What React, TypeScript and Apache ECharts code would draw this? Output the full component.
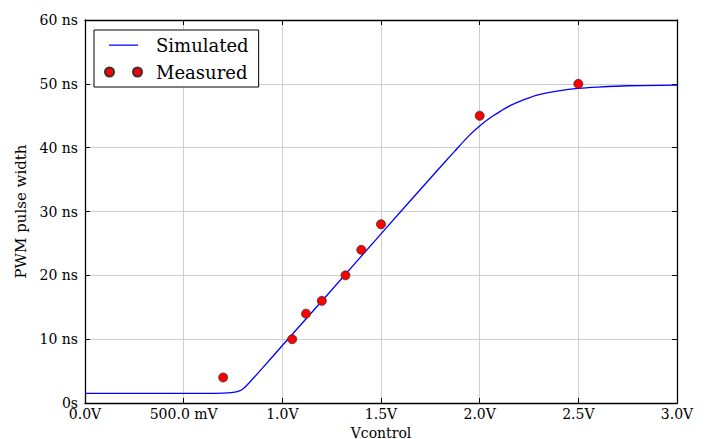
import React, { useEffect, useRef } from "react";
import * as echarts from "echarts";

const simX = [0, 0.5, 0.7, 0.75, 0.78, 0.8, 0.83, 0.9, 1.0, 1.25, 1.5, 1.75, 1.875, 1.95, 2.0, 2.05, 2.1, 2.15, 2.2, 2.25, 2.3, 2.4, 2.5, 2.6, 2.75, 3.0];
const simY = [1.5, 1.5, 1.55, 1.65, 1.85, 2.2, 3.1, 5.5, 9.0, 17.7, 26.5, 35.2, 39.5, 42.0, 43.4, 44.6, 45.6, 46.5, 47.2, 47.8, 48.3, 48.9, 49.3, 49.5, 49.7, 49.8];
const measX = [0.7, 1.05, 1.12, 1.2, 1.32, 1.4, 1.5, 2.0, 2.5];
const measY = [4, 10, 14, 16, 20, 24, 28, 45, 50];
const xTicks = [0, 0.5, 1.0, 1.5, 2.0, 2.5, 3.0];
const yTicks = [0, 10, 20, 30, 40, 50, 60];

const FONT = "DejaVu Serif";

function xLabel(v: number): string {
  if (Math.abs(v - 0.5) < 1e-9) return "500.0 mV";
  return v.toFixed(1) + "V";
}
function yLabel(v: number): string {
  if (v === 0) return "0s";
  return v + " ns";
}

export default function App() {
  const ref = useRef<HTMLDivElement>(null);
  useEffect(() => {
    if (!ref.current) return;
    const chart = echarts.init(ref.current, null, { renderer: "svg" });
    const tick = { show: true, inside: true, length: 5, lineStyle: { color: "#000", width: 1 } };
    const frame = { show: true, onZero: false, lineStyle: { color: "#000", width: 1.3 } };
    const xBase = { type: "value" as const, min: xTicks[0], max: xTicks[xTicks.length - 1], interval: 0.5 };
    const yBase = { type: "value" as const, min: yTicks[0], max: yTicks[yTicks.length - 1], interval: 10 };
    chart.setOption({
      animation: false,
      backgroundColor: "#fff",
      grid: { left: 85, right: 29, top: 20, bottom: 36, containLabel: false, outerBoundsMode: "none" },
      legend: {
        left: 94,
        top: 30,
        orient: "vertical",
        backgroundColor: "#fff",
        borderColor: "#000",
        borderWidth: 1,
        borderRadius: 0,
        padding: [6, 10, 6, 10],
        itemWidth: 37,
        itemHeight: 9,
        itemGap: 9,
        textStyle: { fontFamily: FONT, fontSize: 18, color: "#000", padding: [0, 0, 0, 9] },
        data: [
          {
            name: "Simulated",
            icon: "path://M0,0L0.01,0L0,0.01ZM37,9L36.99,9L37,8.99ZM4,3.9L33,3.9L33,5.2L4,5.2Z",
            itemStyle: { color: "#0000ff", borderWidth: 0 },
          },
          {
            name: "Measured",
            icon: "path://M0,4.5A4.5,4.5 0 1,1 9,4.5A4.5,4.5 0 1,1 0,4.5ZM28,4.5A4.5,4.5 0 1,1 37,4.5A4.5,4.5 0 1,1 28,4.5Z",
          },
        ],
      },
      xAxis: [
        {
          ...xBase,
          position: "bottom",
          name: "Vcontrol",
          nameLocation: "middle",
          nameGap: 18,
          nameTextStyle: { fontFamily: FONT, fontSize: 14, lineHeight: 14, color: "#000" },
          axisLine: frame,
          axisTick: tick,
          axisLabel: { fontFamily: FONT, fontSize: 14, color: "#000", margin: 4, formatter: xLabel },
          splitLine: { show: true, lineStyle: { color: "#cfcfcf", width: 1 } },
        },
        {
          ...xBase,
          position: "top",
          axisLine: frame,
          axisTick: tick,
          axisLabel: { show: false },
          splitLine: { show: false },
        },
      ],
      yAxis: [
        {
          ...yBase,
          position: "left",
          name: "PWM pulse width",
          nameLocation: "middle",
          nameGap: 44,
          nameTextStyle: { fontFamily: FONT, fontSize: 15, color: "#000" },
          axisLine: frame,
          axisTick: tick,
          axisLabel: { fontFamily: FONT, fontSize: 14, color: "#000", margin: 7, formatter: yLabel },
          splitLine: { show: true, lineStyle: { color: "#cfcfcf", width: 1 } },
        },
        {
          ...yBase,
          position: "right",
          axisLine: frame,
          axisTick: tick,
          axisLabel: { show: false },
          splitLine: { show: false },
        },
      ],
      series: [
        {
          name: "Simulated",
          type: "line",
          xAxisIndex: 0,
          yAxisIndex: 0,
          data: simX.map((x, i) => [x, simY[i]]),
          symbol: "none",
          smooth: 0.3,
          lineStyle: { color: "#0000ff", width: 1.3 },
          itemStyle: { color: "#0000ff" },
          z: 2,
        },
        {
          name: "Measured",
          type: "scatter",
          xAxisIndex: 0,
          yAxisIndex: 0,
          data: measX.map((x, i) => [x, measY[i]]),
          symbol: "circle",
          symbolSize: 9,
          itemStyle: { color: "#ff0000", borderColor: "#333", borderWidth: 0.8, opacity: 1 },
          z: 3,
        },
      ],
    });
    return () => chart.dispose();
  }, []);
  return <div ref={ref} style={{ width: 706, height: 439, position: "absolute", left: 0, top: 0 }} />;
}
